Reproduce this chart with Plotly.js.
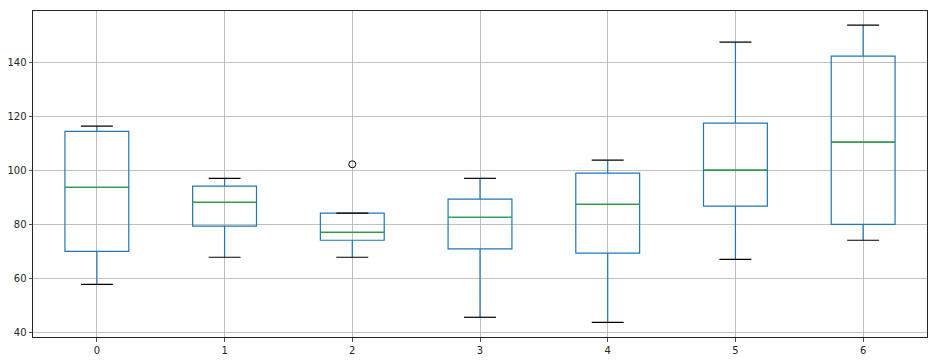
<!DOCTYPE html>
<html>
<head>
<meta charset="utf-8">
<script src="https://cdn.plot.ly/plotly-3.0.1.min.js"></script>
<style>html,body{margin:0;padding:0;background:#fff;}#chart{width:936px;height:361px;}</style>
</head>
<body>
<div id="chart"></div>
<script>
const categories = [0, 1, 2, 3, 4, 5, 6];
const lowerWhisker = [57.8, 67.8, 67.8, 45.6, 43.7, 67.0, 74.1];
const q1Values = [70.0, 79.3, 74.1, 70.9, 69.3, 86.7, 80.0];
const medianValues = [93.7, 88.1, 77.0, 82.6, 87.4, 100.0, 110.4];
const q3Values = [114.4, 94.1, 84.1, 89.3, 98.9, 117.4, 142.2];
const upperWhisker = [116.3, 97.0, 84.1, 97.0, 103.7, 147.4, 153.7];
const outlierX = [2];
const outlierY = [102.2];
const tickLabels = ['0', '1', '2', '3', '4', '5', '6'];

const boxHalf = 0.25, capHalf = 0.125;
const medX = [], medY = [], capX = [], capY = [];
categories.forEach((c, i) => {
  medX.push(c - boxHalf, c + boxHalf, null);
  medY.push(medianValues[i], medianValues[i], null);
  capX.push(c - capHalf, c + capHalf, null, c - capHalf, c + capHalf, null);
  capY.push(lowerWhisker[i], lowerWhisker[i], null, upperWhisker[i], upperWhisker[i], null);
});

const traces = [
  {
    type: 'box', x: categories, q1: q1Values, median: medianValues, q3: q3Values,
    lowerfence: lowerWhisker, upperfence: upperWhisker,
    width: 0.5, whiskerwidth: 0, boxpoints: false,
    line: {color: '#1f77b4', width: 1.2}, fillcolor: 'rgba(0,0,0,0)',
    hoverinfo: 'skip', showlegend: false
  },
  {
    type: 'scatter', mode: 'lines', x: medX, y: medY,
    line: {color: '#2ca02c', width: 1.2}, showlegend: false, hoverinfo: 'skip'
  },
  {
    type: 'scatter', mode: 'lines', x: capX, y: capY,
    line: {color: '#000000', width: 1.2}, showlegend: false, hoverinfo: 'skip'
  },
  {
    type: 'scatter', mode: 'markers', x: outlierX, y: outlierY,
    marker: {symbol: 'circle-open', size: 7, color: '#000000', line: {width: 1, color: '#000000'}},
    showlegend: false, hoverinfo: 'skip'
  }
];

const layout = {
  width: 936, height: 361,
  margin: {l: 33, r: 9, t: 11, b: 24},
  paper_bgcolor: '#ffffff', plot_bgcolor: '#ffffff',
  font: {family: 'DejaVu Sans', size: 10, color: '#262626'},
  showlegend: false,
  xaxis: {
    range: [-0.5, 6.5], tickmode: 'array', tickvals: categories, ticktext: tickLabels,
    showgrid: true, gridcolor: '#b0b0b0', gridwidth: 0.8, zeroline: false,
    showline: true, mirror: true, linecolor: '#262626', linewidth: 1,
    ticks: 'outside', ticklen: 3.5, tickcolor: '#262626', tickwidth: 0.8
  },
  yaxis: {
    range: [38.3, 158.9], tickmode: 'array', tickvals: [40, 60, 80, 100, 120, 140],
    showgrid: true, gridcolor: '#b0b0b0', gridwidth: 0.8, zeroline: false,
    showline: true, mirror: true, linecolor: '#262626', linewidth: 1,
    ticks: 'outside', ticklen: 3.5, tickcolor: '#262626', tickwidth: 0.8
  }
};

Plotly.newPlot('chart', traces, layout, {displayModeBar: false, staticPlot: true});
</script>
</body>
</html>
